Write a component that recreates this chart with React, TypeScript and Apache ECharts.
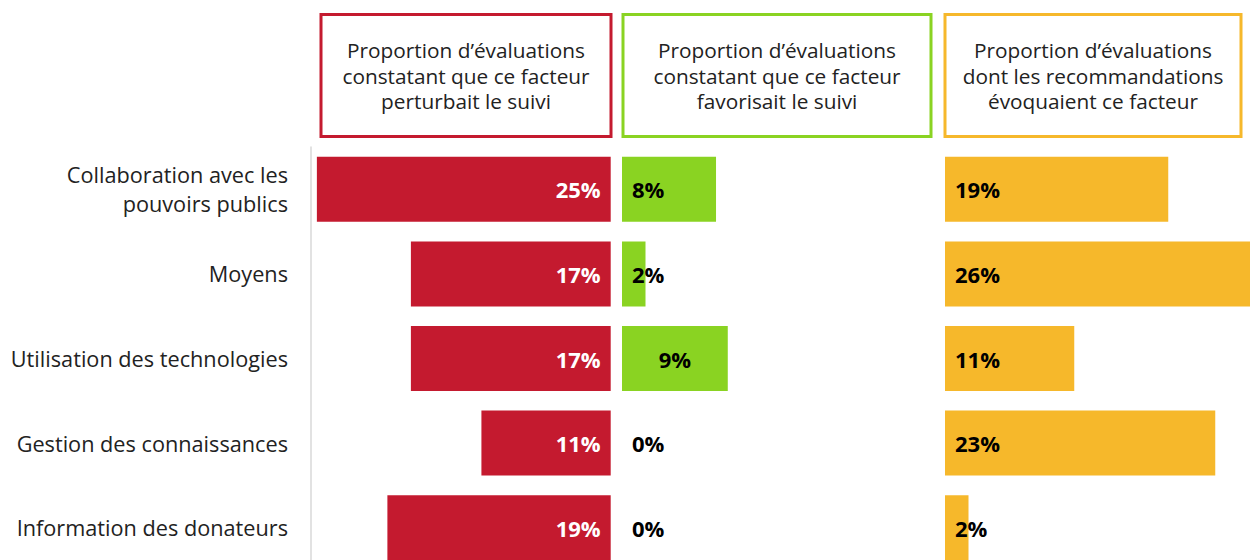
import React, { useEffect, useRef } from "react";
import * as echarts from "echarts";

const categories = [
  "Collaboration avec les\npouvoirs publics",
  "Moyens",
  "Utilisation des technologies",
  "Gestion des connaissances",
  "Information des donateurs",
];
const perturbait = [25, 17, 17, 11, 19];
const favorisait = [8, 2, 9, 0, 0];
const recommandations = [19, 26, 11, 23, 2];
const headers = [
  "Proportion d’évaluations\nconstatant que ce facteur\nperturbait le suivi",
  "Proportion d’évaluations\nconstatant que ce facteur\nfavorisait le suivi",
  "Proportion d’évaluations\ndont les recommandations\névoquaient ce facteur",
];

const RED = "#C41A2F";
const GREEN = "#8AD322";
const YELLOW = "#F6B82B";
const FONT = "'Open Sans', sans-serif";

export default function App() {
  const ref = useRef<HTMLDivElement>(null);
  useEffect(() => {
    document.body.style.margin = "0";
    const chart = echarts.init(ref.current!, null, { renderer: "svg" });
    const top = 147;
    const height = 423;
    const gridBase = { top, height, outerBoundsMode: "none", containLabel: false };
    const grids = [
      { ...gridBase, left: 311, width: 299.7 },
      { ...gridBase, left: 622, width: 299.7 },
      { ...gridBase, left: 945, width: 305.5 },
    ];
    const boxes = [
      { x: 321, w: 290, color: RED },
      { x: 623, w: 308, color: GREEN },
      { x: 945, w: 296, color: YELLOW },
    ];
    const labelBase = {
      show: true,
      fontFamily: FONT,
      fontSize: 22,
      fontWeight: "bold",
      formatter: "{c}%",
    };
    const option: any = {
      animation: false,
      backgroundColor: "#fff",
      grid: grids,
      xAxis: [
        { gridIndex: 0, type: "value", min: 0, max: 25.5, inverse: true, show: false },
        { gridIndex: 1, type: "value", min: 0, max: 25.5, show: false },
        { gridIndex: 2, type: "value", min: 0, max: 26, show: false },
      ],
      yAxis: [
        {
          gridIndex: 0,
          type: "category",
          data: categories,
          inverse: true,
          position: "left",
          axisLine: { show: true, onZero: false, lineStyle: { color: "#D9D9D9", width: 1.5 } },
          axisTick: { show: false },
          axisLabel: {
            margin: 23,
            fontFamily: FONT,
            fontSize: 21.7,
            color: "#222",
            lineHeight: 29,
            align: "right",
            padding: [0, 0, 3, 0],
          },
        },
        { gridIndex: 1, type: "category", data: categories, inverse: true, show: false },
        { gridIndex: 2, type: "category", data: categories, inverse: true, show: false },
      ],
      graphic: boxes.flatMap((b, i) => [
        {
          type: "rect",
          shape: { x: b.x, y: 14.5, width: b.w, height: 122 },
          style: { fill: "#fff", stroke: b.color, lineWidth: 3 },
        },
        {
          type: "text",
          x: b.x + b.w / 2,
          y: 75.5,
          style: {
            text: headers[i],
            fontFamily: FONT,
            fontSize: 20.8,
            lineHeight: 25.5,
            fill: "#222",
            align: "center",
            verticalAlign: "middle",
          },
        },
      ]),
      series: [
        {
          type: "bar",
          xAxisIndex: 0,
          yAxisIndex: 0,
          data: perturbait,
          barWidth: 65,
          itemStyle: { color: RED },
          label: { ...labelBase, position: "insideRight", distance: 10, color: "#fff" },
        },
        {
          type: "bar",
          xAxisIndex: 1,
          yAxisIndex: 1,
          data: favorisait.map((v, i) =>
            i === 2 ? { value: v, label: { position: "inside" } } : v
          ),
          barWidth: 65,
          itemStyle: { color: GREEN },
          label: { ...labelBase, position: "insideLeft", distance: 10, color: "#000" },
        },
        {
          type: "bar",
          xAxisIndex: 2,
          yAxisIndex: 2,
          data: recommandations,
          barWidth: 65,
          itemStyle: { color: YELLOW },
          label: { ...labelBase, position: "insideLeft", distance: 10, color: "#000" },
        },
      ],
    };
    chart.setOption(option);
    return () => chart.dispose();
  }, []);
  return <div ref={ref} style={{ width: 1250, height: 560 }} />;
}
